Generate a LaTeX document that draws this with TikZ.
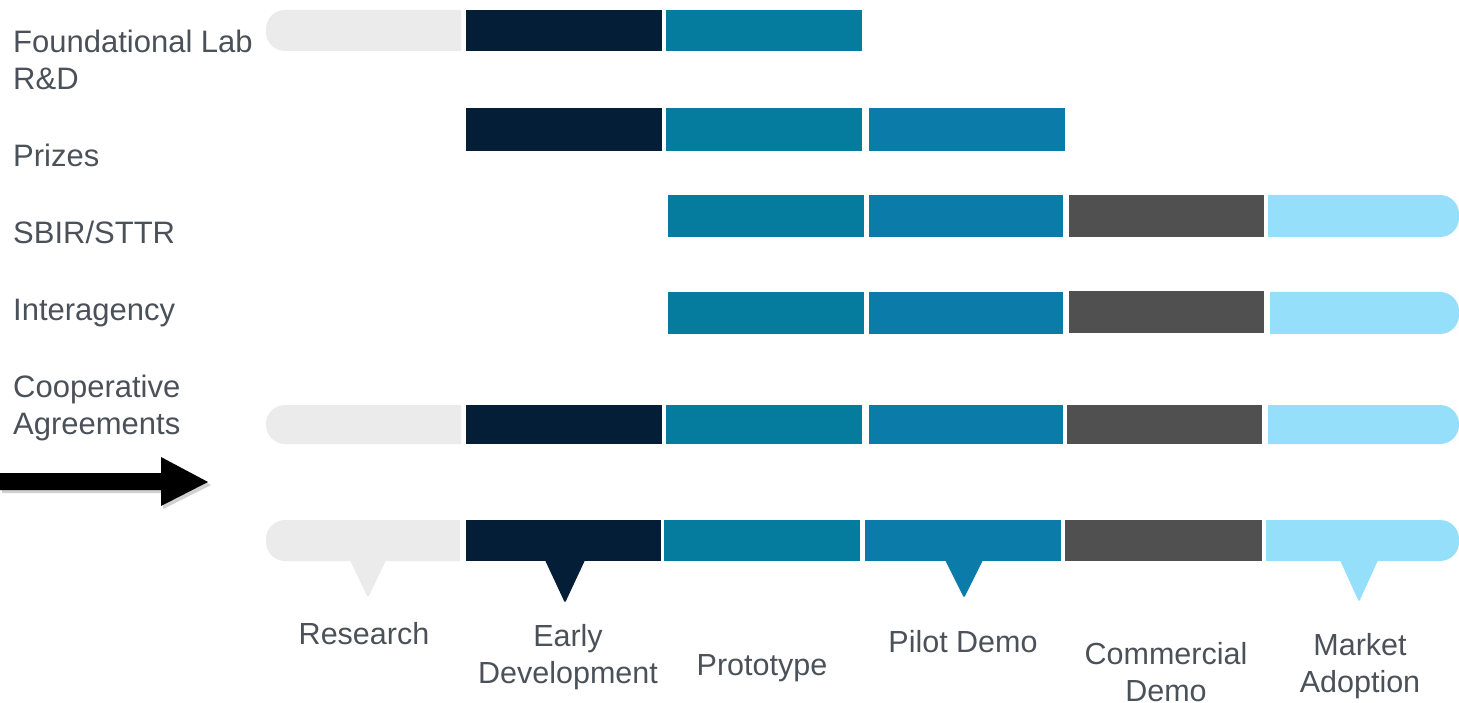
\documentclass[tikz,border=0pt]{standalone}
\usepackage{fontspec}
\setmainfont{Liberation Sans}
\begin{document}
\definecolor{cLight}{HTML}{EBEBEB}
\definecolor{cNavy}{HTML}{031E36}
\definecolor{cTeal}{HTML}{057B9D}
\definecolor{cBlue}{HTML}{0B7CA9}
\definecolor{cGray}{HTML}{505050}
\definecolor{cSky}{HTML}{96DFFA}
\definecolor{cText}{HTML}{4B5159}
% plain segment: colour, x1, x2, y1, y2
\newcommand{\segplain}[5]{\fill[#1] (#2,#4) rectangle (#3,#5);}
% segment with a rounded left end
\newcommand{\segleft}[5]{\fill[#1] (#3,#4) [rounded corners=19pt] -- (#2,#4) -- (#2,#5) [sharp corners] -- (#3,#5) -- cycle;}
% segment with a rounded right end
\newcommand{\segright}[5]{\fill[#1] (#2,#4) [rounded corners=19pt] -- (#3,#4) -- (#3,#5) [sharp corners] -- (#2,#5) -- cycle;}
% pointer under a segment: colour, centre x, half width, tip y
\newcommand{\pointer}[4]{\fill[#1, rounded corners=1.5pt] ({#2-#3},558) -- ({#2+#3},558) -- (#2,#4) -- cycle;}
\begin{tikzpicture}[x=1pt,y=-1pt,
  rowlabel/.style={anchor=base west, inner sep=0pt, text=cText, font=\fontsize{31}{37}\selectfont, align=left},
  stagelabel/.style={anchor=base, inner sep=0pt, text=cText, font=\fontsize{30.5}{37}\selectfont, align=center}]
\useasboundingbox (0,0) rectangle (1459,703);

% Foundational Lab R&D
\segleft{cLight}{266}{461}{10}{51}
\segplain{cNavy}{466}{662}{10}{51}
\segplain{cTeal}{666}{862}{10}{51}
% Prizes
\segplain{cNavy}{466}{662}{108}{151}
\segplain{cTeal}{666}{862}{108}{151}
\segplain{cBlue}{869}{1065}{108}{151}
% SBIR/STTR
\segplain{cTeal}{668}{864}{195}{237}
\segplain{cBlue}{869}{1063}{195}{237}
\segplain{cGray}{1069}{1264}{195}{237}
\segright{cSky}{1268}{1459}{195}{237}
% Interagency
\segplain{cTeal}{668}{864}{292}{334}
\segplain{cBlue}{869}{1063}{292}{334}
\segplain{cGray}{1069}{1264}{291}{333}
\segright{cSky}{1270}{1459}{292}{334}
% Cooperative Agreements
\segleft{cLight}{266}{461}{405}{444}
\segplain{cNavy}{466}{662}{405}{444}
\segplain{cTeal}{666}{862}{405}{444}
\segplain{cBlue}{869}{1063}{405}{444}
\segplain{cGray}{1067}{1262}{405}{444}
\segright{cSky}{1268}{1459}{405}{444}
% stage bar
\segleft{cLight}{266}{460}{520}{561}
\segplain{cNavy}{466}{661}{520}{561}
\segplain{cTeal}{664}{860}{520}{561}
\segplain{cBlue}{865}{1061}{520}{561}
\segplain{cGray}{1065}{1262}{520}{561}
\segright{cSky}{1266}{1459}{520}{561}
% pointers
\pointer{cLight}{368}{19}{598}
\pointer{cNavy}{565}{21}{603}
\pointer{cBlue}{964}{20}{598}
\pointer{cSky}{1359}{20}{602}

% arrow with a soft shadow
\fill[black, opacity=0.18] (2,476) -- (163,476) -- (163,460) -- (211,485) -- (163,509) -- (163,493) -- (2,493) -- cycle;
\fill[black] (0,473) -- (161,473) -- (161,457) -- (208,482) -- (161,506) -- (161,490) -- (0,490) -- cycle;

% row labels (a two-line label is placed by its last baseline)
\node[rowlabel] (lab) at (13,90) {Foundational Lab\\R\&D};
\node[rowlabel] (prz) at (13,167) {Prizes};
\node[rowlabel] (sbr) at (13,244) {SBIR/STTR};
\node[rowlabel] (ia) at (13,320) {Interagency};
\node[rowlabel] (coop) at (13,434) {Cooperative\\Agreements};

% stage labels
\node[stagelabel] (res) at (364,644) {Research};
\node[stagelabel] (early) at (568,683) {Early\\Development};
\node[stagelabel] (proto) at (762,675) {Prototype};
\node[stagelabel] (pilot) at (963,652) {Pilot Demo};
\node[stagelabel] (comm) at (1166,701) {Commercial\\Demo};
\node[stagelabel] (mkt) at (1360,692) {Market\\Adoption};
\end{tikzpicture}
\end{document}
